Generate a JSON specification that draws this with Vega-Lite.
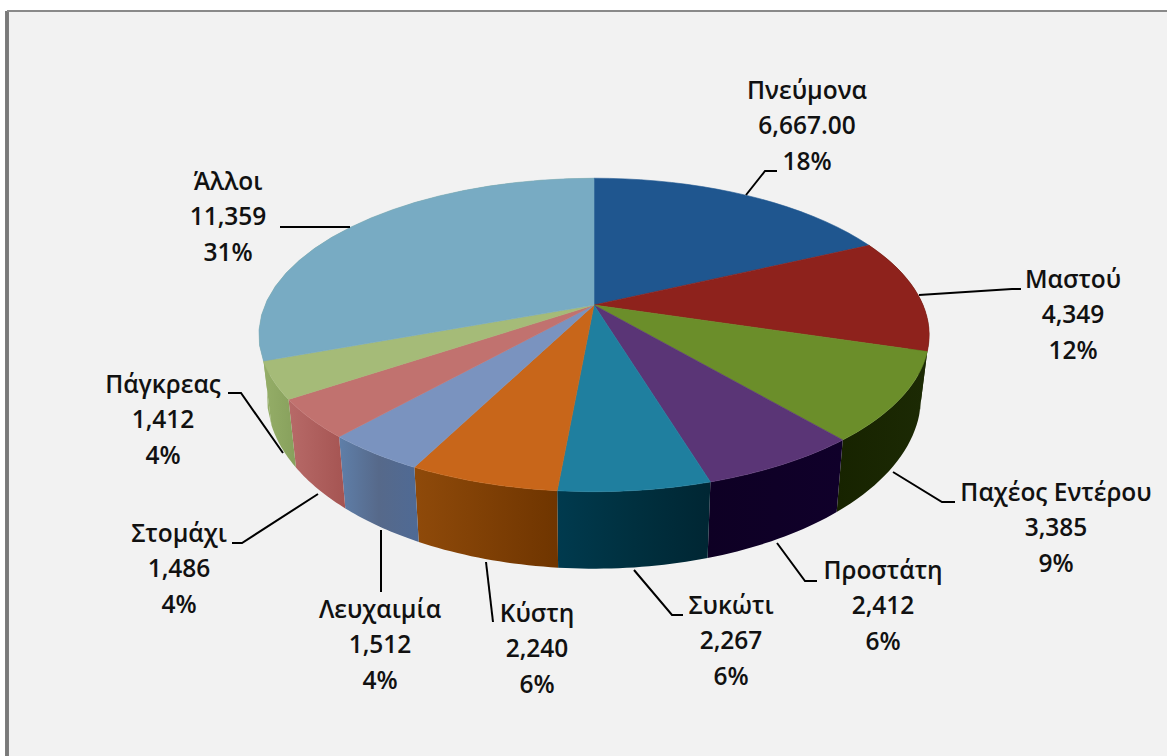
{
  "$schema": "https://vega.github.io/schema/vega-lite/v6.json",
  "autosize": {"type": "none"},
  "width": 1160,
  "height": 745,
  "padding": {"left": 7, "top": 11, "right": 0, "bottom": 0},
  "background": "#ffffff",
  "view": {"fill": "#f2f2f2", "stroke": null},
  "datasets": {
    "slices": [
      {"order": 1, "name": "Πνεύμονα", "value": 6667, "valueText": "6,667.00", "share": "18%"},
      {"order": 2, "name": "Μαστού", "value": 4349, "valueText": "4,349", "share": "12%"},
      {"order": 3, "name": "Παχέος Εντέρου", "value": 3385, "valueText": "3,385", "share": "9%"},
      {"order": 4, "name": "Προστάτη", "value": 2412, "valueText": "2,412", "share": "6%"},
      {"order": 5, "name": "Συκώτι", "value": 2267, "valueText": "2,267", "share": "6%"},
      {"order": 6, "name": "Κύστη", "value": 2240, "valueText": "2,240", "share": "6%"},
      {"order": 7, "name": "Λευχαιμία", "value": 1512, "valueText": "1,512", "share": "4%"},
      {"order": 8, "name": "Στομάχι", "value": 1486, "valueText": "1,486", "share": "4%"},
      {"order": 9, "name": "Πάγκρεας", "value": 1412, "valueText": "1,412", "share": "4%"},
      {"order": 10, "name": "Άλλοι", "value": 11359, "valueText": "11,359", "share": "31%"}
    ],
    "labelAnchors": [
      {"name": "Πνεύμονα", "x": 213, "y": -213},
      {"name": "Μαστού", "x": 479, "y": -24},
      {"name": "Παχέος Εντέρου", "x": 462, "y": 189},
      {"name": "Προστάτη", "x": 289, "y": 267},
      {"name": "Συκώτι", "x": 137, "y": 302},
      {"name": "Κύστη", "x": -57, "y": 310},
      {"name": "Λευχαιμία", "x": -214, "y": 306},
      {"name": "Στομάχι", "x": -415, "y": 230},
      {"name": "Πάγκρεας", "x": -431, "y": 81},
      {"name": "Άλλοι", "x": -366, "y": -122}
    ],
    "leaders": [
      {"name": "Πνεύμονα", "seq": 0, "x": 152, "y": -110},
      {"name": "Πνεύμονα", "seq": 1, "x": 171, "y": -134},
      {"name": "Πνεύμονα", "seq": 2, "x": 183, "y": -134},
      {"name": "Μαστού", "seq": 0, "x": 325, "y": -10},
      {"name": "Μαστού", "seq": 1, "x": 418, "y": -16},
      {"name": "Μαστού", "seq": 2, "x": 427, "y": -16},
      {"name": "Παχέος Εντέρου", "seq": 0, "x": 299, "y": 167},
      {"name": "Παχέος Εντέρου", "seq": 1, "x": 348, "y": 197},
      {"name": "Παχέος Εντέρου", "seq": 2, "x": 361, "y": 197},
      {"name": "Προστάτη", "seq": 0, "x": 183, "y": 238},
      {"name": "Προστάτη", "seq": 1, "x": 211, "y": 276},
      {"name": "Προστάτη", "seq": 2, "x": 223, "y": 276},
      {"name": "Συκώτι", "seq": 0, "x": 40, "y": 265},
      {"name": "Συκώτι", "seq": 1, "x": 78, "y": 310},
      {"name": "Συκώτι", "seq": 2, "x": 89, "y": 310},
      {"name": "Κύστη", "seq": 0, "x": -108, "y": 257},
      {"name": "Κύστη", "seq": 1, "x": -101, "y": 317},
      {"name": "Λευχαιμία", "seq": 0, "x": -213, "y": 225},
      {"name": "Λευχαιμία", "seq": 1, "x": -213, "y": 287},
      {"name": "Στομάχι", "seq": 0, "x": -276, "y": 189},
      {"name": "Στομάχι", "seq": 1, "x": -352, "y": 238},
      {"name": "Στομάχι", "seq": 2, "x": -362, "y": 238},
      {"name": "Πάγκρεας", "seq": 0, "x": -311, "y": 148},
      {"name": "Πάγκρεας", "seq": 1, "x": -353, "y": 88},
      {"name": "Πάγκρεας", "seq": 2, "x": -366, "y": 88},
      {"name": "Άλλοι", "seq": 0, "x": -244, "y": -78},
      {"name": "Άλλοι", "seq": 1, "x": -314, "y": -78}
    ]
  },
  "data": {"name": "slices"},
  "transform": [
    {"joinaggregate": [{"op": "sum", "field": "value", "as": "total"}]},
    {"window": [{"op": "sum", "field": "value", "as": "cum"}], "sort": [{"field": "order"}]},
    {"calculate": "2*PI*(datum.cum-datum.value)/datum.total", "as": "a0"},
    {"calculate": "2*PI*datum.cum/datum.total", "as": "a1"}
  ],
  "layer": [
    {
      "transform": [
        {"calculate": "[0,0.05,0.1,0.15,0.2,0.25,0.3,0.35,0.4,0.45,0.5,0.55,0.6,0.65,0.7,0.75,0.8,0.85,0.9,0.95,1,1.0001,1.05,1.1,1.15,1.2,1.25,1.3,1.35,1.4,1.45,1.5,1.55,1.6,1.65,1.7,1.75,1.8,1.85,1.9,1.95,2]", "as": "s"},
        {"flatten": ["s"]},
        {"calculate": "datum.a0+(datum.s<=1?datum.s:2-datum.s)*(datum.a1-datum.a0)", "as": "th"},
        {"calculate": "1+0.191*cos(datum.th)", "as": "den"},
        {"calculate": "(datum.s<=1?329:321)*sin(datum.th)/datum.den", "as": "x"},
        {"calculate": "datum.s<=1?-151*cos(datum.th)/datum.den:59-165.6*cos(datum.th)/datum.den", "as": "y"}
      ],
      "encoding": {
        "x": {"field": "x", "type": "quantitative", "scale": {"domain": [-587, 573], "zero": false, "nice": false}, "axis": null},
        "y": {"field": "y", "type": "quantitative", "scale": {"domain": [451, -294], "zero": false, "nice": false}, "axis": null},
        "order": {"field": "s", "type": "quantitative"}
      },
      "layer": [
        {"transform": [{"filter": "datum.order==10"}], "mark": {"type": "line", "strokeWidth": 0, "fill": "#95ae68"}},
        {"transform": [{"filter": "datum.order==2"}], "mark": {"type": "line", "strokeWidth": 0, "fill": "#1c2a04"}},
        {"transform": [{"filter": "datum.order==3"}], "mark": {"type": "line", "strokeWidth": 0, "fill": {"gradient": "linear", "x1": 0, "x2": 1, "y1": 0, "y2": 0, "stops": [{"offset": 0, "color": "#172300"}, {"offset": 1, "color": "#1c2a04"}]}}},
        {"transform": [{"filter": "datum.order==4"}], "mark": {"type": "line", "strokeWidth": 0, "fill": {"gradient": "linear", "x1": 0, "x2": 1, "y1": 0, "y2": 0, "stops": [{"offset": 0, "color": "#0e0024"}, {"offset": 1, "color": "#10002a"}]}}},
        {"transform": [{"filter": "datum.order==5"}], "mark": {"type": "line", "strokeWidth": 0, "fill": {"gradient": "linear", "x1": 0, "x2": 1, "y1": 0, "y2": 0, "stops": [{"offset": 0, "color": "#003a4e"}, {"offset": 0.5, "color": "#00303f"}, {"offset": 1, "color": "#002633"}]}}},
        {"transform": [{"filter": "datum.order==6"}], "mark": {"type": "line", "strokeWidth": 0, "fill": {"gradient": "linear", "x1": 0, "x2": 1, "y1": 0, "y2": 0, "stops": [{"offset": 0, "color": "#8f4a0a"}, {"offset": 1, "color": "#6f3500"}]}}},
        {"transform": [{"filter": "datum.order==7"}], "mark": {"type": "line", "strokeWidth": 0, "fill": {"gradient": "linear", "x1": 0, "x2": 1, "y1": 0, "y2": 0, "stops": [{"offset": 0, "color": "#5f7fa9"}, {"offset": 0.5, "color": "#56698a"}, {"offset": 1, "color": "#4f6a95"}]}}},
        {"transform": [{"filter": "datum.order==8"}], "mark": {"type": "line", "strokeWidth": 0, "fill": {"gradient": "linear", "x1": 0, "x2": 1, "y1": 0, "y2": 0, "stops": [{"offset": 0, "color": "#b76a68"}, {"offset": 1, "color": "#a55452"}]}}},
        {"transform": [{"filter": "datum.order==9"}], "mark": {"type": "line", "strokeWidth": 0, "fill": {"gradient": "linear", "x1": 0, "x2": 1, "y1": 0, "y2": 0, "stops": [{"offset": 0, "color": "#95ae68"}, {"offset": 1, "color": "#87a05c"}]}}}
      ]
    },
    {
      "transform": [
        {"calculate": "[-1,0,0.05,0.1,0.15,0.2,0.25,0.3,0.35,0.4,0.45,0.5,0.55,0.6,0.65,0.7,0.75,0.8,0.85,0.9,0.95,1,2]", "as": "s"},
        {"flatten": ["s"]},
        {"calculate": "datum.a0+clamp(datum.s,0,1)*(datum.a1-datum.a0)", "as": "th"},
        {"calculate": "(datum.s<0||datum.s>1)?0:1", "as": "r"},
        {"calculate": "1+0.191*cos(datum.th)", "as": "den"},
        {"calculate": "datum.r*329*sin(datum.th)/datum.den", "as": "x"},
        {"calculate": "-datum.r*151*cos(datum.th)/datum.den", "as": "y"}
      ],
      "mark": {"type": "line", "strokeWidth": 0.6},
      "encoding": {
        "x": {"field": "x", "type": "quantitative", "scale": {"domain": [-587, 573], "zero": false, "nice": false}, "axis": null},
        "y": {"field": "y", "type": "quantitative", "scale": {"domain": [451, -294], "zero": false, "nice": false}, "axis": null},
        "order": {"field": "s", "type": "quantitative"},
        "fill": {
          "field": "name", "type": "nominal", "legend": null,
          "scale": {
            "domain": ["Πνεύμονα", "Μαστού", "Παχέος Εντέρου", "Προστάτη", "Συκώτι", "Κύστη", "Λευχαιμία", "Στομάχι", "Πάγκρεας", "Άλλοι"],
            "range": ["#1f568f", "#8e221c", "#6b8e2a", "#5a3576", "#1f7f9f", "#c8661a", "#7a93bf", "#c1726f", "#a5bb78", "#78abc3"]
          }
        },
        "stroke": {
          "field": "name", "type": "nominal", "legend": null,
          "scale": {
            "domain": ["Πνεύμονα", "Μαστού", "Παχέος Εντέρου", "Προστάτη", "Συκώτι", "Κύστη", "Λευχαιμία", "Στομάχι", "Πάγκρεας", "Άλλοι"],
            "range": ["#1f568f", "#8e221c", "#6b8e2a", "#5a3576", "#1f7f9f", "#c8661a", "#7a93bf", "#c1726f", "#a5bb78", "#78abc3"]
          }
        }
      }
    },
    {
      "data": {"name": "leaders"},
      "transform": [],
      "mark": {"type": "line", "stroke": "#000000", "strokeWidth": 2},
      "encoding": {
        "x": {"field": "x", "type": "quantitative", "scale": {"domain": [-587, 573], "zero": false, "nice": false}, "axis": null},
        "y": {"field": "y", "type": "quantitative", "scale": {"domain": [451, -294], "zero": false, "nice": false}, "axis": null},
        "detail": {"field": "name", "type": "nominal"},
        "order": {"field": "seq", "type": "quantitative"}
      }
    },
    {
      "transform": [
        {"lookup": "name", "from": {"data": {"name": "labelAnchors"}, "key": "name", "fields": ["x", "y"]}},
        {"calculate": "datum.name+'\\n'+datum.valueText+'\\n'+datum.share", "as": "label"}
      ],
      "mark": {"type": "text", "align": "center", "baseline": "middle", "lineBreak": "\n", "lineHeight": 35.3, "font": "Open Sans", "fontSize": 24.5, "fontWeight": 600, "fill": "#111111"},
      "encoding": {
        "x": {"field": "x", "type": "quantitative", "scale": {"domain": [-587, 573], "zero": false, "nice": false}, "axis": null},
        "y": {"field": "y", "type": "quantitative", "scale": {"domain": [451, -294], "zero": false, "nice": false}, "axis": null},
        "text": {"field": "label"}
      }
    },
    {
      "mark": {"type": "rule", "stroke": "#7a7a7a", "strokeWidth": 2.5, "clip": false},
      "encoding": {"x": {"datum": -587, "type": "quantitative", "scale": {"domain": [-587, 573], "zero": false, "nice": false}, "axis": null}}
    },
    {
      "mark": {"type": "rule", "stroke": "#8a8a8a", "strokeWidth": 1.5, "clip": false},
      "encoding": {"y": {"datum": -294, "type": "quantitative", "scale": {"domain": [451, -294], "zero": false, "nice": false}, "axis": null}}
    }
  ]
}
